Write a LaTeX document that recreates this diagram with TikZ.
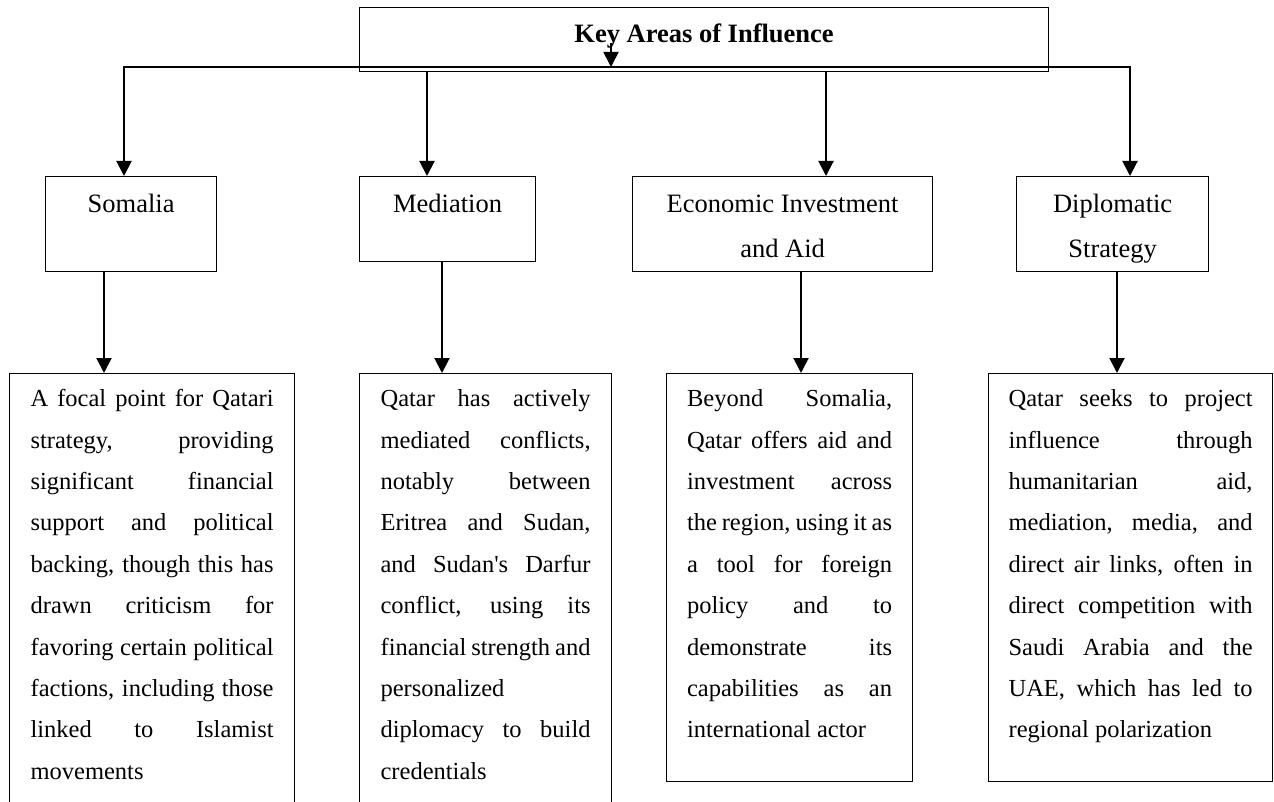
\documentclass[tikz,border=0pt]{standalone}
\usepackage{fontspec}
\setmainfont{Liberation Serif}[Ligatures={TeXOff,CommonOff}]
\usetikzlibrary{arrows.meta}
\newcommand\myhead{\fontsize{19.875pt}{33.75pt}\selectfont}
\newcommand\mybody{\fontsize{18.375pt}{31.05pt}\selectfont}
\newcommand\jline[1]{\makebox[\linewidth][s]{#1}\\}
\tikzset{
  box/.style={draw, line width=0.9pt, inner ysep=0pt, inner xsep=0pt, anchor=north west},
  arr/.style={line width=1.5pt, -{Triangle[length=11.25pt,width=11.25pt]}},
  bus/.style={line width=0.8pt, line cap=rect},
}
\begin{document}
\begin{tikzpicture}[x=0.75pt,y=-0.75pt]
\fill[white] (0,0) rectangle (1274,802);
\useasboundingbox (0,0) rectangle (1274,802);

% title
\node[box] (title) at (359,7) {\begin{minipage}[t][48pt][t]{516.75pt}\centering\myhead\bfseries\rule{0pt}{26.25pt}Key Areas of Influence\end{minipage}};

% level 2
\node[box] (som) at (45,176) {\begin{minipage}[t][71.25pt][t]{128.25pt}\centering\myhead\rule{0pt}{27pt}Somalia\end{minipage}};
\node[box] (med) at (359,176) {\begin{minipage}[t][63.75pt][t]{132pt}\centering\myhead\rule{0pt}{27pt}Mediation\end{minipage}};
\node[box] (eco) at (632,176) {\begin{minipage}[t][71.25pt][t]{225pt}\centering\myhead\rule{0pt}{27pt}Economic Investment\\and Aid\end{minipage}};
\node[box] (dip) at (1016,176) {\begin{minipage}[t][71.25pt][t]{144pt}\centering\myhead\rule{0pt}{27pt}Diplomatic\\Strategy\end{minipage}};

% level 3
\node[box, inner xsep=15.75pt] (d1) at (9,373) {\begin{minipage}[t][329.25pt][t]{182.25pt}\mybody\rule{0pt}{24.75pt}%
\jline{A focal point for Qatari}
\jline{strategy, providing}
\jline{significant financial}
\jline{support and political}
\jline{backing, though this has}
\jline{drawn criticism for}
\jline{favoring certain political}
\jline{factions, including those}
\jline{linked to Islamist}
movements\end{minipage}};

\node[box, inner xsep=15.75pt] (d2) at (359,373) {\begin{minipage}[t][329.25pt][t]{157.5pt}\mybody\rule{0pt}{24.75pt}%
\jline{Qatar has actively}
\jline{mediated conflicts,}
\jline{notably between}
\jline{Eritrea and Sudan,}
\jline{and Sudan's Darfur}
\jline{conflict, using its}
\jline{financial strength and}
personalized\\
\jline{diplomacy to build}
credentials\end{minipage}};

\node[box, inner xsep=15.375pt] (d3) at (666,373) {\begin{minipage}[t][306pt][t]{153.75pt}\mybody\rule{0pt}{24.75pt}%
\jline{Beyond Somalia,}
\jline{Qatar offers aid and}
\jline{investment across}
\jline{the region, using it as}
\jline{a tool for foreign}
\jline{policy and to}
\jline{demonstrate its}
\jline{capabilities as an}
international actor\end{minipage}};

\node[box, inner xsep=15pt] (d4) at (988,373) {\begin{minipage}[t][306pt][t]{183pt}\mybody\rule{0pt}{24.75pt}%
\jline{Qatar seeks to project}
\jline{influence through}
\jline{humanitarian aid,}
\jline{mediation, media, and}
\jline{direct air links, often in}
\jline{direct competition with}
\jline{Saudi Arabia and the}
\jline{UAE, which has led to}
regional polarization\end{minipage}};

% bus and drops
\coordinate (b1) at (124,67);
\coordinate (b4) at (1130,67);
\coordinate (c2) at (427,0);
\coordinate (c3) at (826,0);
\coordinate (s0) at (611,43);
\draw[bus] (b1) -- (b4);
\draw[arr] (b1) -- (b1 |- som.north);
\draw[arr] (b4) -- (b4 |- dip.north);
\draw[arr] (title.south -| c2) -- (c2 |- med.north);
\draw[arr] (title.south -| c3) -- (c3 |- eco.north);
\draw[arr, line width=1.2pt] (s0) -- (s0 |- b1);

% level 2 to level 3
\coordinate (e1) at (104,0);
\coordinate (e2) at (442,0);
\coordinate (e3) at (801,0);
\coordinate (e4) at (1117,0);
\draw[arr] (som.south -| e1) -- (e1 |- d1.north);
\draw[arr] (med.south -| e2) -- (e2 |- d2.north);
\draw[arr] (eco.south -| e3) -- (e3 |- d3.north);
\draw[arr] (dip.south -| e4) -- (e4 |- d4.north);
\end{tikzpicture}
\end{document}
